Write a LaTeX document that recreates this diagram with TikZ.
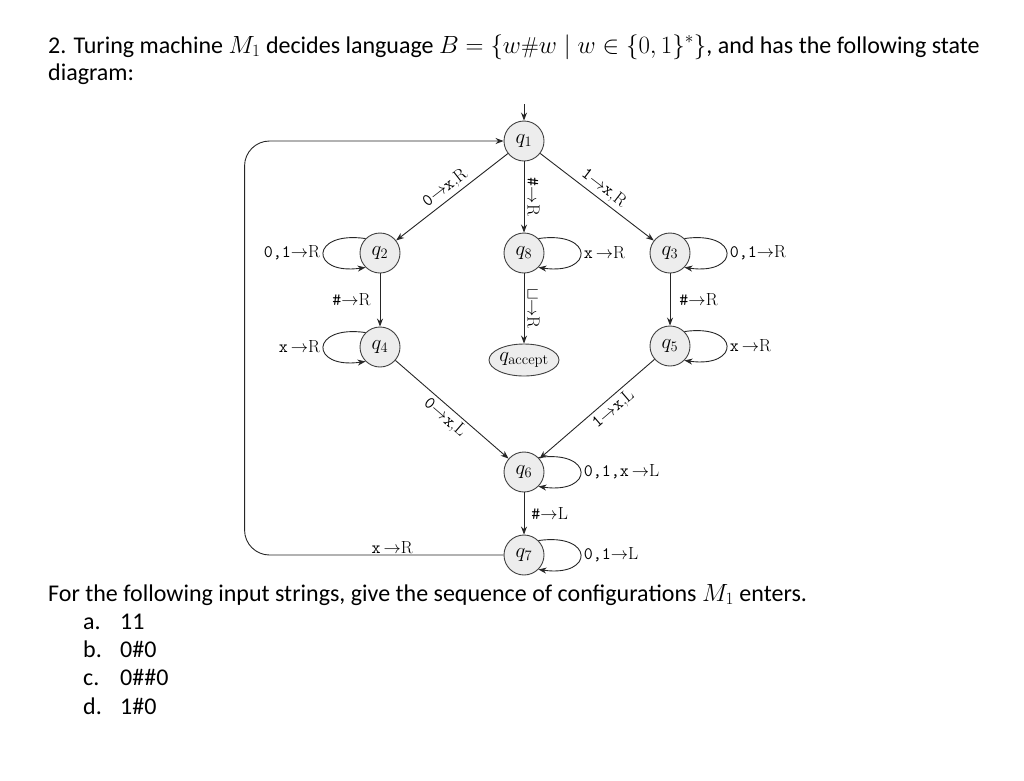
\documentclass[tikz,border=0pt]{standalone}
\usepackage{fontspec}
\newfontfamily\calibri{Carlito}
\usetikzlibrary{arrows.meta,shapes.geometric}
\newcommand{\smallmath}[1]{{\fontsize{23}{27}\selectfont$#1$}}
\begin{document}
\begin{tikzpicture}[x=1pt,y=-1pt,
  st/.style={circle,draw=black!75,fill=black!7,minimum size=40pt,inner sep=0pt,line width=0.9pt,font=\fontsize{21}{24}\selectfont},
  tr/.style={-{Stealth[length=8pt,width=6pt]},line width=0.9pt,draw=black!85},
  lab/.style={font=\fontsize{17.5}{20}\selectfont,inner sep=3pt},
  txt/.style={font=\calibri\fontsize{24}{28}\selectfont,anchor=base west,inner sep=0pt},
]
\useasboundingbox (0,0) rectangle (1024,780);
% texts
\node[txt] (t1) at (48,53) {2. Turing machine \smallmath{M_1} decides language \smallmath{B=\{w\#w\mid w\in\{0,1\}^*\}}, and has the following state};
\node[txt] (t2) at (48,80) {diagram:};
\node[txt] (t3) at (48,601) {For the following input strings, give the sequence of configurations \smallmath{M_1} enters.};
\node[txt] (ia) at (83,629) {a.};
\node[txt] (ta) at (120,629) {11};
\node[txt] (ib) at (83,657) {b.};
\node[txt] (tb) at (120,657) {0\#0};
\node[txt] (ic) at (83,685) {c.};
\node[txt] (tc) at (120,685) {0\#\#0};
\node[txt] (id) at (83,714) {d.};
\node[txt] (td) at (120,714) {1\#0};
% states
\node[st] (q1) at (524,141) {$q_1$};
\node[st] (q2) at (380,253) {$q_2$};
\node[st] (q8) at (524,253) {$q_8$};
\node[st] (q3) at (670,253) {$q_3$};
\node[st] (q4) at (380,347) {$q_4$};
\node[st,ellipse,minimum width=68pt,minimum height=32pt] (qa) at (524,360) {$q_{\mathrm{accept}}$};
\node[st] (q5) at (670,346) {$q_5$};
\node[st] (q6) at (524,472) {$q_6$};
\node[st] (q7) at (524,555) {$q_7$};
% start
\coordinate (s) at (524,104);
\draw[tr] (s) -- (q1);
% edges
\draw[tr] (q1) -- node[lab,sloped,above]{\texttt{0}$\rightarrow$\texttt{x},R} (q2);
\draw[tr] (q1) -- node[lab,sloped,above]{\texttt{1}$\rightarrow$\texttt{x},R} (q3);
\draw[tr] (q1) -- node[lab,rotate=-90,anchor=south]{\texttt{\#}$\rightarrow$R} (q8);
\draw[tr] (q8) -- node[lab,rotate=-90,anchor=south]{$\sqcup$$\rightarrow$R} (qa);
\draw[tr] (q2) -- node[lab,left=6pt]{\texttt{\#}$\rightarrow$R} (q4);
\draw[tr] (q3) -- node[lab,right=6pt]{\texttt{\#}$\rightarrow$R} (q5);
\draw[tr] (q4) -- node[lab,sloped,below]{\texttt{0}$\rightarrow$\texttt{x},L} (q6);
\draw[tr] (q5) -- node[lab,sloped,below,pos=0.42]{\texttt{1}$\rightarrow$\texttt{x},L} (q6);
\draw[tr] (q6) -- node[lab,right=4pt]{\texttt{\#}$\rightarrow$L} (q7);
\draw[tr,rounded corners=25pt] (q7.west) -- node[lab,above,pos=0.43,inner sep=1pt]{\texttt{x}\,$\rightarrow$R} ++(-259,0) |- (q1.west);
% loops
\draw[tr] (q2.135) .. controls +(-56,-8) and +(-56,8) .. node[lab,left]{\texttt{0,1}$\rightarrow$R} (q2.225);
\draw[tr] (q4.135) .. controls +(-56,-8) and +(-56,8) .. node[lab,left]{\texttt{x}\,$\rightarrow$R} (q4.225);
\draw[tr] (q8.45) .. controls +(56,-8) and +(56,8) .. node[lab,right]{\texttt{x}\,$\rightarrow$R} (q8.-45);
\draw[tr] (q3.45) .. controls +(56,-8) and +(56,8) .. node[lab,right]{\texttt{0,1}$\rightarrow$R} (q3.-45);
\draw[tr] (q5.45) .. controls +(56,-8) and +(56,8) .. node[lab,right]{\texttt{x}\,$\rightarrow$R} (q5.-45);
\draw[tr] (q6.45) .. controls +(56,-8) and +(56,8) .. node[lab,right]{\texttt{0,1,x}\,$\rightarrow$L} (q6.-45);
\draw[tr] (q7.45) .. controls +(56,-8) and +(56,8) .. node[lab,right]{\texttt{0,1}$\rightarrow$L} (q7.-45);
\end{tikzpicture}
\end{document}
